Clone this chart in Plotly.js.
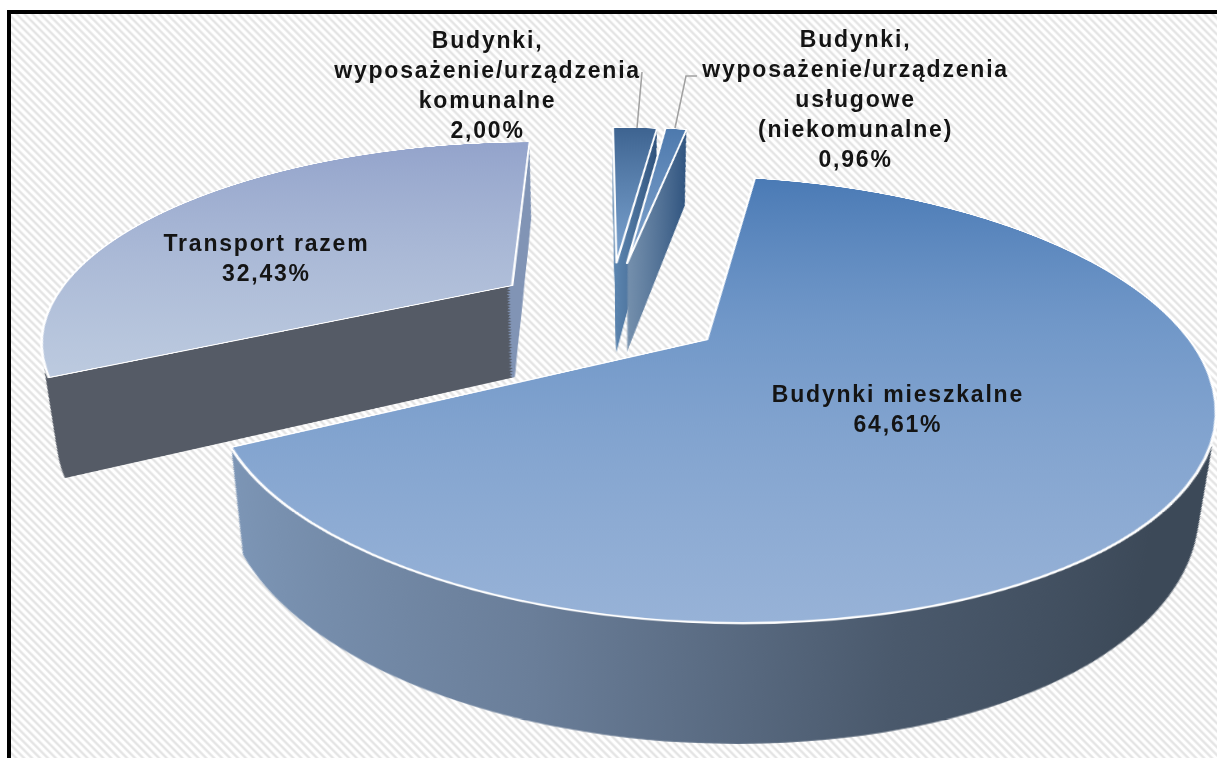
<!DOCTYPE html>
<html><head><meta charset="utf-8">
<script src="https://cdn.plot.ly/plotly-3.0.1.min.js"></script>
<style>
html,body{margin:0;padding:0;width:1217px;height:758px;overflow:hidden;background:#fff}
#bg{position:absolute;left:7px;top:10px;width:1210px;height:748px;box-sizing:border-box;border-left:4px solid #000;border-top:4px solid #000;
background:repeating-linear-gradient(45deg,#fff 0,#fff 1.6px,#e4e4e4 3.2px,#e4e4e4 4px,#fff 5.6px)}
#pie{position:absolute}
#labels{position:absolute;left:0;top:0;width:1217px;height:758px}
#labels .annotation-text{letter-spacing:1.8px}
</style></head><body>
<div id="bg"></div><div id="pie"></div><div id="labels"></div>
<script>
const categories=["Budynki mieszkalne","Transport razem","Budynki, wyposażenie/urządzenia komunalne","Budynki, wyposażenie/urządzenia usługowe (niekomunalne)"];
const values=[64.61,32.43,2.00,0.96];
const pulls=[0.25,0.255,0.262,0.262];
const startAngle=10.3;
const labelTexts=["Budynki mieszkalne<br>64,61%","Transport razem<br>32,43%","Budynki,<br>wyposażenie/urządzenia<br>komunalne<br>2,00%","Budynki,<br>wyposażenie/urządzenia<br>usługowe<br>(niekomunalne)<br>0,96%"];
const labelX=[898,266,487,855];
const labelY=[409,258,85,99];
const topGrad=[
 [[0,'#4a7ab5'],[0.45,'#7097c8'],[1,'#97b2d7']],
 [[0,'#93a3cb'],[1,'#bccadf']],
 [[0,'#3d6390'],[1,'#7aa2cf']],
 [[0,'#4d79ad'],[1,'#7ea2cc']]];
const wallGrad=[
 {dir:[0,0,1,0],stops:[[0,'#7c95b5'],[0.3,'#6a7e99'],[0.6,'#4a596c'],[0.85,'#3c4958'],[1,'#3c4958']]},
 {dir:[0.82,1.115,1.18,0.265],stops:[[0,'#555b66'],[0.499,'#555b66'],[0.5,'#8194b5'],[1,'#8194b5']]},
 {dir:[0,0,1,0],stops:[[0,'#5d86b0'],[1,'#2f527c']]},
 {dir:[0,0,1,0],stops:[[0,'#7590ad'],[1,'#315580']]}];

const W=1400,H=1700,R=464,cx=700,cy=760;
const targetX=610,targetY=310;
const P=1637,theta=65.6*Math.PI/180,depth=106,N=60;
const Fy=P*Math.sin(theta),h=P*Math.cos(theta);
const half=R*(1+Math.max(...pulls));
const traces=[];
for(let i=N;i>=0;i--){
  const z=depth*i/N,k=h/(h+z),c=cy+(1-k)*Fy,a=half*k;
  traces.push({type:'pie',values:values,labels:categories,sort:false,direction:'clockwise',rotation:startAngle,
    pull:pulls,textinfo:'none',hoverinfo:'skip',showlegend:false,
    marker:{colors:['#6d819c','#555b66','#3d6390','#4d79ad'],line:{color:'#fff',width:i===0?2.5:0}},
    domain:{x:[(cx-a)/W,(cx+a)/W],y:[1-(c+a)/H,1-(c-a)/H]}});
}
const pieDiv=document.getElementById('pie');
pieDiv.style.cssText=`left:${targetX-cx}px;top:${targetY-cy}px;width:${W}px;height:${H}px;transform-origin:${cx}px ${cy}px;transform:perspective(${P}px) rotateX(${theta}rad)`;

function addGradient(defs,id,dir,stops){
  const g=document.createElementNS('http://www.w3.org/2000/svg','linearGradient');
  g.setAttribute('id',id);['x1','y1','x2','y2'].forEach((n,j)=>g.setAttribute(n,dir[j]));
  stops.forEach(s=>{const e=document.createElementNS('http://www.w3.org/2000/svg','stop');e.setAttribute('offset',s[0]);e.setAttribute('stop-color',s[1]);g.appendChild(e);});
  defs.appendChild(g);
}
Plotly.newPlot(pieDiv,traces,{width:W,height:H,margin:{l:0,r:0,t:0,b:0},paper_bgcolor:'rgba(0,0,0,0)',plot_bgcolor:'rgba(0,0,0,0)'},{staticPlot:true,displayModeBar:false}).then(()=>{
  const svg=pieDiv.querySelector('svg.main-svg');
  const defs=svg.querySelector('defs');
  topGrad.forEach((s,i)=>addGradient(defs,'top'+i,[0,0,0,1],s));
  wallGrad.forEach((w,i)=>addGradient(defs,'wall'+i,w.dir,w.stops));
  const groups=pieDiv.querySelectorAll('.pielayer .trace');
  groups.forEach((g,t)=>{
    const isTop=t===groups.length-1;
    g.querySelectorAll('.slice path.surface').forEach((p,i)=>{p.style.fill=`url(#${isTop?'top':'wall'}${i})`;});
  });
});

const annotations=labelTexts.map((t,i)=>({text:t,x:labelX[i],y:labelY[i],xref:'x',yref:'y',showarrow:false,xanchor:'center',yanchor:'middle',align:'center',
  font:{family:'Liberation Sans, Arial, sans-serif',size:23,color:'#141414',weight:700}}));
const shapes=[
 {type:'line',x0:642,y0:72,x1:637,y1:128,line:{color:'#a0a0a0',width:1.5}},
 {type:'path',path:'M697,76 L686,76 L675,128',line:{color:'#a0a0a0',width:1.5}}];
Plotly.newPlot('labels',[],{width:1217,height:758,margin:{l:0,r:0,t:0,b:0},paper_bgcolor:'rgba(0,0,0,0)',plot_bgcolor:'rgba(0,0,0,0)',
  xaxis:{range:[0,1217],visible:false,fixedrange:true},yaxis:{range:[758,0],visible:false,fixedrange:true},annotations:annotations,shapes:shapes},{staticPlot:true,displayModeBar:false});
</script></body></html>
